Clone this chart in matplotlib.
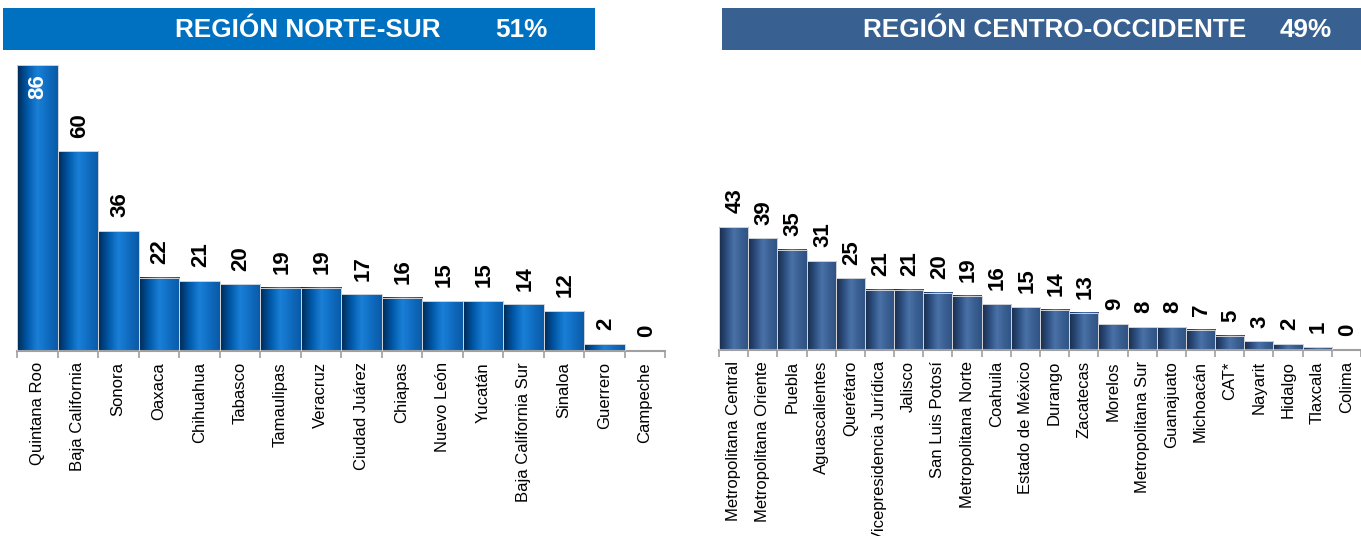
import numpy as np
from matplotlib import pyplot as plt
from matplotlib.colors import LinearSegmentedColormap
from matplotlib.patches import Rectangle

plt.rcParams['font.family'] = ['Liberation Sans', 'DejaVu Sans']

# Data
norte_names = ['Quintana Roo', 'Baja California', 'Sonora', 'Oaxaca', 'Chihuahua', 'Tabasco',
               'Tamaulipas', 'Veracruz', 'Ciudad Juárez', 'Chiapas', 'Nuevo León', 'Yucatán',
               'Baja California Sur', 'Sinaloa', 'Guerrero', 'Campeche']
norte_values = [86, 60, 36, 22, 21, 20, 19, 19, 17, 16, 15, 15, 14, 12, 2, 0]

centro_names = ['Metropolitana Central', 'Metropolitana Oriente', 'Puebla', 'Aguascalientes',
                'Querétaro', 'Vicepresidencia Jurídica', 'Jalisco', 'San Luis Potosí',
                'Metropolitana Norte', 'Coahuila', 'Estado de México', 'Durango', 'Zacatecas',
                'Morelos', 'Metropolitana Sur', 'Guanajuato', 'Michoacán', 'CAT*', 'Nayarit',
                'Hidalgo', 'Tlaxcala', 'Colima']
centro_values = [43, 39, 35, 31, 25, 21, 21, 20, 19, 16, 15, 14, 13, 9, 8, 8, 7, 5, 3, 2, 1, 0]

W, H = 1361, 536
fig = plt.figure(figsize=(W / 100, H / 100), dpi=100)

# cylinder-like shading for the bars
cmap_norte = LinearSegmentedColormap.from_list(
    'norte', ['#002a55', '#0058a8', '#1a80d8', '#0f6cc0', '#0a5aa6'])
cmap_centro = LinearSegmentedColormap.from_list(
    'centro', ['#1a2c4a', '#2c4d7e', '#4a72a8', '#3a5f92', '#2f5282'])
grad = np.linspace(0, 1, 64).reshape(1, -1)


def draw_panel(rect, names, values, cmap, ymax, inside_first=False):
    ax = fig.add_axes(rect)
    n = len(values)
    for i, v in enumerate(values):
        if v > 0:
            ax.imshow(grad, extent=(i - 0.5, i + 0.5, 0, v), aspect='auto', cmap=cmap,
                      zorder=2, interpolation='bicubic')
            ax.add_patch(Rectangle((i - 0.5, 0), 1, v, facecolor='none',
                                   edgecolor='#d0d4da', lw=0.7, zorder=3))
        if inside_first and i == 0:
            ax.annotate(str(v), (i, v), xytext=(0, -7), textcoords='offset points',
                        rotation=90, ha='center', va='top', fontsize=16,
                        fontweight='bold', color='white', zorder=5)
        else:
            ax.annotate(str(v), (i, v), xytext=(1, 10), textcoords='offset points',
                        rotation=90, ha='center', va='bottom', fontsize=16,
                        fontweight='bold', color='black', zorder=5, annotation_clip=False)
    ax.set_xlim(-0.5, n - 0.5)
    ax.set_ylim(0, ymax)
    for s in ['top', 'right', 'left']:
        ax.spines[s].set_visible(False)
    ax.spines['bottom'].set_color('#a0a0a0')
    ax.spines['bottom'].set_linewidth(1.5)
    ax.set_yticks([])
    ax.set_xticks(range(n))
    ax.set_xticklabels(names, rotation=90, fontsize=12)
    ax.tick_params(axis='x', which='major', length=0, pad=8)
    ax.set_xticks(np.arange(n + 1) - 0.5, minor=True)
    ax.tick_params(axis='x', which='minor', length=5, width=1.2, color='#a0a0a0', direction='out')
    return ax


draw_panel([17 / W, (H - 351) / H, 648 / W, 286 / H], norte_names, norte_values,
           cmap_norte, 86, inside_first=True)
draw_panel([719 / W, (H - 350) / H, 642 / W, 123 / H], centro_names, centro_values,
           cmap_centro, 43)

# header bands
fig.patches.append(Rectangle((3 / W, (H - 50) / H), 592 / W, 42 / H, transform=fig.transFigure,
                             facecolor='#0070c0', edgecolor='none', zorder=0))
fig.patches.append(Rectangle((722 / W, (H - 50) / H), 639 / W, 42 / H, transform=fig.transFigure,
                             facecolor='#386192', edgecolor='none', zorder=0))
hdr = dict(color='white', fontsize=18.8, fontweight='bold', ha='center', va='center')
fig.text(308 / W, (H - 30) / H, 'REGIÓN NORTE-SUR', **hdr)
fig.text(521 / W, (H - 30) / H, '51%', **hdr)
fig.text(1055 / W, (H - 30) / H, 'REGIÓN CENTRO-OCCIDENTE', **hdr)
fig.text(1306 / W, (H - 30) / H, '49%', **hdr)

fig.savefig('out.png', dpi=100)
